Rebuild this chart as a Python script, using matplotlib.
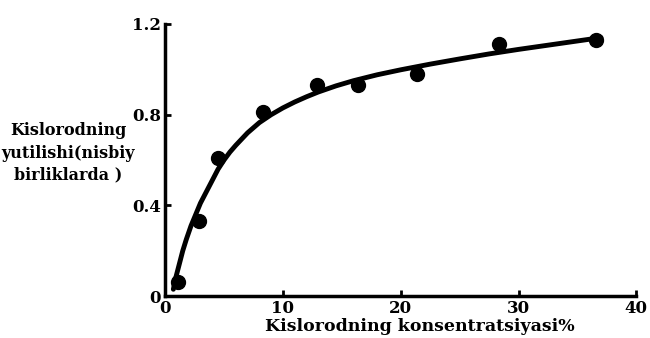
import numpy as np
import matplotlib.pyplot as plt

# measured points
x_pts = [1.1, 2.9, 4.5, 8.3, 12.9, 16.4, 21.4, 28.3, 36.6]
y_pts = [0.06, 0.33, 0.61, 0.81, 0.93, 0.93, 0.98, 1.11, 1.13]

# smooth curve
x_curve = [0.7, 0.9, 1.2, 1.5, 1.8, 2.2, 2.6, 3.0, 3.5, 4.0, 4.5, 5.0, 5.5, 6.0, 7.0, 8.0, 9.0,
           10.0, 11.0, 12.0, 13.0, 14.5, 16.0, 18.0, 20.0, 22.5, 25.0, 27.5, 30.0, 33.5, 37.0]
y_curve = [0.03, 0.08, 0.14, 0.20, 0.25, 0.31, 0.36, 0.41, 0.46, 0.51, 0.56, 0.60, 0.635, 0.665,
           0.72, 0.765, 0.80, 0.83, 0.856, 0.879, 0.90, 0.927, 0.95, 0.976, 0.998, 1.023, 1.046,
           1.068, 1.088, 1.114, 1.14]

plt.rcParams['font.family'] = ['DejaVu Serif']
plt.rcParams['font.weight'] = 'bold'

fig = plt.figure(figsize=(6.5, 3.38), dpi=100)
ax = fig.add_axes([0.254, 0.124, 0.725, 0.805])

ax.plot(x_curve, y_curve, color='black', lw=3.5, solid_capstyle='round', solid_joinstyle='round')
ax.plot(x_pts, y_pts, 'o', color='black', ms=10)

ax.set_xlim(0, 40)
ax.set_ylim(0, 1.2)
ax.set_xticks([0, 10, 20, 30, 40])
ax.set_yticks([0, 0.4, 0.8, 1.2])
ax.set_yticklabels(['0', '0.4', '0.8', '1.2'])
ax.tick_params(direction='in', length=4, width=2, labelsize=12, pad=3)
for s in ['top', 'right']:
    ax.spines[s].set_visible(False)
for s in ['left', 'bottom']:
    ax.spines[s].set_linewidth(2.5)

fig.text(0.105, 0.547, 'Kislorodning\nyutilishi(nisbiy\nbirliklarda )', ha='center', va='center',
         fontsize=11.5, fontweight='bold', linespacing=1.4)
fig.text(0.646, 0.035, 'Kislorodning konsentratsiyasi%', ha='center', va='center',
         fontsize=12.5, fontweight='bold')

fig.savefig('out.png', dpi=100)
